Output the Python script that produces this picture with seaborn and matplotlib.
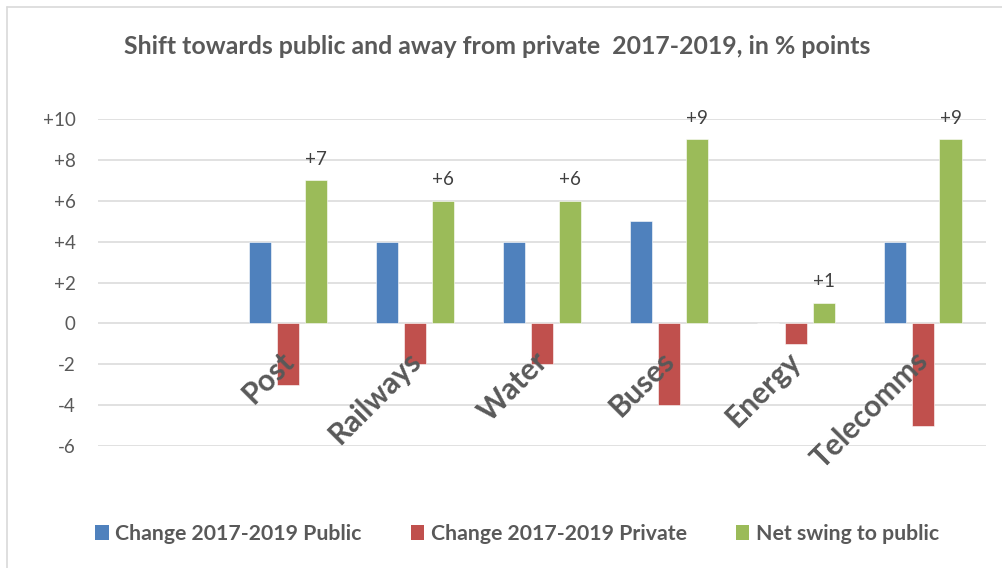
import matplotlib
matplotlib.use("Agg")
import matplotlib.pyplot as plt
import matplotlib.transforms as mtransforms
from matplotlib.lines import Line2D
from matplotlib.patches import Patch
import seaborn as sns
import pandas as pd

# Sectors (the first slot is left empty on purpose)
sectors = ["", "Post", "Railways", "Water", "Buses", "Energy", "Telecomms"]
series_names = ["Change 2017-2019 Public", "Change 2017-2019 Private", "Net swing to public"]
public_change = [4, 4, 4, 5, 0, 4]
private_change = [-3, -2, -2, -4, -1, -5]
net_swing = [7, 6, 6, 9, 1, 9]
y_ticks = [-6, -4, -2, 0, 2, 4, 6, 8, 10]
y_tick_labels = ["-6", "-4", "-2", "0", "+2", "+4", "+6", "+8", "+10"]
title = "Shift towards public and away from private  2017-2019, in % points"

colors = ["#4F81BD", "#C0504D", "#9BBB59"]
text_gray = "#595959"

rows = []
for name, vals in zip(series_names, [public_change, private_change, net_swing]):
    for sec, v in zip(sectors[1:], vals):
        rows.append({"sector": sec, "series": name, "value": v})
df = pd.DataFrame(rows)

sns.set_theme(style="white")
plt.rcParams["font.family"] = ["Lato", "DejaVu Sans"]

fig = plt.figure(figsize=(10.03, 5.68), dpi=100)
ax = fig.add_axes([98 / 1003, 1 - 446 / 568, (986 - 98) / 1003, (446 - 119) / 568])

sns.barplot(data=df, x="sector", y="value", hue="series", order=sectors,
            hue_order=series_names, palette=colors, width=0.66, gap=0.21,
            saturation=1, errorbar=None, legend=False, ax=ax,
            edgecolor="white", linewidth=0.4)

ax.set_xlim(-0.5, len(sectors) - 0.5)
ax.set_ylim(-6, 10)
ax.set_yticks(y_ticks)
ax.set_yticklabels(y_tick_labels)
ax.tick_params(axis="y", length=0, pad=16, labelsize=13.5, labelcolor=text_gray)
ax.set_xticks([])
ax.set_xlabel("")
ax.set_ylabel("")
ax.yaxis.grid(True, color="#D9D9D9", linewidth=1.1)
ax.set_axisbelow(True)
for s in ax.spines.values():
    s.set_visible(False)

# Value labels on the net swing bars
net_container = ax.containers[2]
ax.bar_label(net_container, labels=[f"{v:+d}" for v in net_swing], padding=9,
             fontsize=13.5, color="#404040")

# Rotated category names just under the zero line
offset = mtransforms.ScaledTranslation(1 / 100, -33 / 100, fig.dpi_scale_trans)
for i, sec in enumerate(sectors):
    if not sec:
        continue
    ax.text(i, 0, sec, transform=ax.transData + offset, rotation=45,
            rotation_mode="anchor", ha="right", va="center",
            fontsize=21.5, fontweight="bold", color=text_gray, clip_on=False)

fig.text(497 / 1003, 1 - 46 / 568, title, ha="center", va="center",
         fontsize=17.9, fontweight="bold", color=text_gray)

handles = [Patch(facecolor=c, edgecolor="none") for c in colors]
fig.legend(handles, series_names, loc="center", bbox_to_anchor=(517 / 1003, 1 - 534 / 568),
           ncol=3, frameon=False, handlelength=0.65, handleheight=0.65,
           handletextpad=0.3, columnspacing=2.3,
           prop={"size": 15.3, "weight": "bold"}, labelcolor=text_gray)

# Outer frame of the chart area
fig.add_artist(Line2D([7 / 1003, 1.0], [1 - 7 / 568, 1 - 7 / 568], transform=fig.transFigure,
                      color="#D9D9D9", linewidth=1.2))
fig.add_artist(Line2D([7 / 1003, 7 / 1003], [0.0, 1 - 7 / 568], transform=fig.transFigure,
                      color="#D9D9D9", linewidth=1.2))

fig.savefig("out.png", dpi=100)
